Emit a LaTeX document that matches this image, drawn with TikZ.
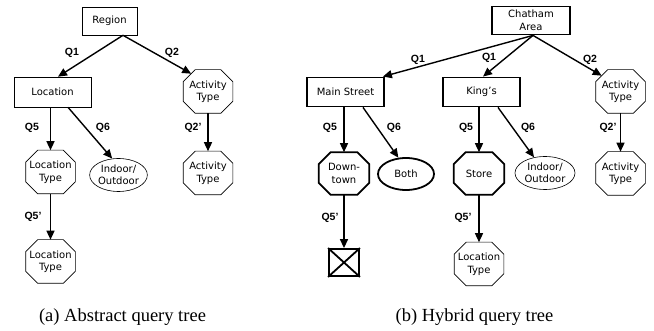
\documentclass[tikz,border=0pt]{standalone}
\usepackage{fontspec}
\setmainfont{Liberation Serif}
\newfontfamily\nodefont{DejaVu Sans}
\newfontfamily\lblfont{Liberation Sans}
\usetikzlibrary{shapes.geometric,arrows.meta}
\begin{document}
\begin{tikzpicture}[x=1pt,y=-1pt,
 nd/.style={font=\nodefont\fontsize{10}{12.5}\selectfont, align=center, inner sep=0pt, draw, line width=0.6pt},
 boxnode/.style={nd, rectangle, minimum height=30pt},
 thkbox/.style={nd, rectangle, minimum height=29pt, line width=1.8pt},
 oct/.style={nd, draw=none, rectangle, minimum width=49pt, minimum height=43pt,
   append after command={\pgfextra{\draw[line width=#1, line join=miter]
     ([xshift=12pt]\tikzlastnode.north west) -- ([xshift=-12pt]\tikzlastnode.north east)
     -- ([yshift=-12pt]\tikzlastnode.north east) -- ([yshift=12pt]\tikzlastnode.south east)
     -- ([xshift=-12pt]\tikzlastnode.south east) -- ([xshift=12pt]\tikzlastnode.south west)
     -- ([yshift=12pt]\tikzlastnode.south west) -- ([yshift=-12pt]\tikzlastnode.north west) -- cycle;}}},
 oct/.default=0.6pt,
 ell/.style={nd, ellipse, minimum width=57pt, minimum height=33pt},
 conn/.style={line width=1.4pt, -{Triangle[length=9pt,width=8pt]}},
 lbl/.style={font=\lblfont\bfseries\fontsize{10.5}{12}\selectfont, inner sep=0pt},
 captxt/.style={font=\fontsize{18.5}{20}\selectfont, inner sep=0pt}]
\useasboundingbox (0,0) rectangle (654,331);

% (a)
\node[boxnode, minimum width=55pt, minimum height=28pt] (region) at (109.5,21) {Region};
\node[boxnode, minimum width=77pt] (loc) at (52.5,92) {Location};
\node[oct] (act1) at (208,91.5) {Activity\\Type};
\node[oct] (loctype1) at (50.5,172) {Location\\Type};
\node[ell] (io1) at (118.5,175) {Indoor/\\Outdoor};
\node[oct] (act2) at (208,173) {Activity\\Type};
\node[oct] (loctype2) at (50.5,261.5) {Location\\Type};

\draw[conn] ([xshift=13.5pt]region.south) -- ([xshift=5.5pt]loc.north);
\draw[conn] ([xshift=13.5pt]region.south) -- ([xshift=8pt,yshift=-4pt]act1.north west);
\draw[conn] (loc.south -| loctype1.north) -- (loctype1.north);
\draw[conn] ([xshift=15.5pt]loc.south) -- (io1.111);
\draw[conn] (act1) -- (act2);
\draw[conn] (loctype1) -- (loctype2);

\node[lbl] (qa1) at (72,53) {Q1};
\node[lbl] (qa2) at (172,53) {Q2};
\node[lbl] (qa5) at (32,128) {Q5};
\node[lbl] (qa6) at (103,128) {Q6};
\node[lbl] (qa2p) at (193,128) {Q2’};
\node[lbl] (qa5p) at (33,217) {Q5’};

% (b)
\node[thkbox, minimum width=78pt, minimum height=28pt] (chat) at (531,20.5) {Chatham\\Area};
\node[thkbox, minimum width=77pt] (main) at (345.5,92) {Main Street};
\node[thkbox, minimum width=77pt] (king) at (481.5,92) {King’s};
\node[oct] (actb1) at (620.5,91.5) {Activity\\Type};
\node[oct=1.8pt, minimum width=50pt, minimum height=42pt] (down) at (344,173.5) {Down-\\town};
\node[ell, line width=1.8pt, minimum width=56pt, minimum height=32pt] (both) at (406,174) {Both};
\node[oct=1.8pt, minimum width=50pt, minimum height=42pt] (store) at (479,173.5) {Store};
\node[ell, minimum width=60pt] (io2) at (545,173) {Indoor/\\Outdoor};
\node[oct] (actb2) at (620.5,173.5) {Activity\\Type};
\node[draw, line width=1.8pt, rectangle, minimum width=30pt, minimum height=27pt, inner sep=0pt] (xbox) at (344,262.5) {};
\draw[line width=1.8pt] (xbox.north west) -- (xbox.south east) (xbox.north east) -- (xbox.south west);
\node[oct] (loctypeb) at (479,264) {Location\\Type};

\draw[conn] ([xshift=2pt]chat.south) -- ([xshift=-2pt]main.north east);
\draw[conn] ([xshift=2pt]chat.south) -- ([xshift=1.5pt]king.north);
\draw[conn] ([xshift=2pt]chat.south) -- ([xshift=6pt,yshift=-6pt]actb1.north west);
\draw[conn] (main.south -| down.north) -- (down.north);
\draw[conn] ([xshift=17.5pt]main.south) -- (both.115);
\draw[conn] (king.south -| store.north) -- (store.north);
\draw[conn] ([xshift=16.5pt]king.south) -- (io2.125);
\draw[conn] (actb1) -- (actb2);
\draw[conn] (down) -- (xbox);
\draw[conn] (store) -- (loctypeb);

\node[lbl] (qb1) at (418,60) {Q1};
\node[lbl] (qb1b) at (489,58) {Q1};
\node[lbl] (qb2) at (590,60) {Q2};
\node[lbl] (qb5) at (330,128) {Q5};
\node[lbl] (qb6) at (394,128) {Q6};
\node[lbl] (qb5b) at (466,128) {Q5};
\node[lbl] (qb6b) at (528,128) {Q6};
\node[lbl] (qb2p) at (608,128) {Q2’};
\node[lbl] (qb5p) at (330,218) {Q5’};
\node[lbl] (qb5pb) at (463,218) {Q5’};

\node[captxt] (capa) at (122.5,317) {(a) Abstract query tree};
\node[captxt] (capb) at (474.5,317) {(b) Hybrid query tree};
\end{tikzpicture}
\end{document}
